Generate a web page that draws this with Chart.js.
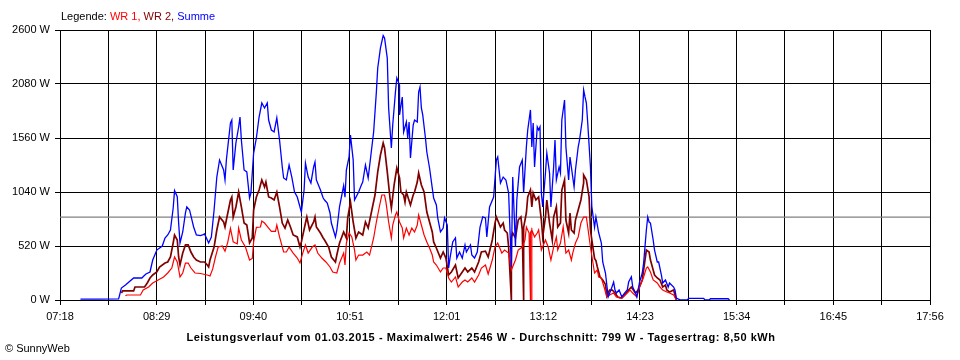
<!DOCTYPE html>
<html><head><meta charset="utf-8">
<script src="https://cdn.jsdelivr.net/npm/chart.js@4.4.1/dist/chart.umd.min.js"></script>
<style>
html,body{margin:0;padding:0;background:#fff;}
#wrap{position:relative;width:960px;height:360px;overflow:hidden;font-family:"Liberation Sans",Arial,sans-serif;font-size:11px;color:#000;}
canvas{position:absolute;left:0;top:0;}
.txt{position:absolute;white-space:nowrap;line-height:13px;}
</style></head><body>
<div id="wrap">
<canvas id="c" width="960" height="360"></canvas>
<div class="txt" id="legend" style="left:61px;top:10px;"></div>
<div class="txt" id="title" style="left:0;width:962px;top:331px;text-align:center;font-weight:bold;letter-spacing:0.55px;"></div>
<div class="txt" id="copy" style="left:5px;top:342px;"></div>
</div>
<script>
// ---- data ----
const seriesNames = ["WR 1", "WR 2", "Summe"];
const xTickLabels = ["07:18","","08:29","","09:40","","10:51","","12:01","","13:12","","14:23","","15:34","","16:45","","17:56"];
const yTickValues = [0, 520, 1040, 1560, 2080, 2600];
const averageWatt = 799;
const maxWatt = 2546;
const dateText = "01.03.2015";
const yieldText = "8,50 kWh";

const wr1 = [["08:06",40],["08:07",48],["08:17",48],["08:19",96],["08:23",125],["08:26",164],["08:30",193],["08:34",222],["08:37",260],["08:40",308],["08:42",414],["08:44",366],["08:46",222],["08:48",260],["08:50",356],["08:52",356],["08:54",308],["08:57",260],["09:01",255],["09:06",241],["09:08",231],["09:10",300],["09:12",414],["09:14",510],["09:17",520],["09:19",470],["09:21",555],["09:23",690],["09:25",560],["09:28",540],["09:29",693],["09:31",578],["09:34",510],["09:37",385],["09:39",400],["09:40",560],["09:42",700],["09:45",703],["09:46",760],["09:48",741],["09:51",693],["09:53",660],["09:56",660],["09:57",722],["09:59",607],["10:02",462],["10:04",462],["10:06",510],["10:09",452],["10:12",404],["10:14",356],["10:16",452],["10:18",530],["10:20",452],["10:23",510],["10:25",530],["10:27",452],["10:30",404],["10:33",366],["10:36",318],["10:38",270],["10:41",260],["10:43",356],["10:46",452],["10:47",337],["10:48",549],["10:50",645],["10:52",607],["10:54",481],["10:55",385],["10:57",433],["11:00",433],["11:03",462],["11:05",433],["11:08",597],["11:10",751],["11:12",886],["11:14",1011],["11:16",1011],["11:17",944],["11:19",751],["11:21",597],["11:22",722],["11:24",818],["11:25",847],["11:27",751],["11:29",693],["11:30",597],["11:32",693],["11:34",626],["11:36",693],["11:38",655],["11:40",722],["11:41",818],["11:43",722],["11:45",626],["11:47",559],["11:49",501],["11:51",433],["11:52",366],["11:54",337],["11:57",270],["11:59",308],["12:01",308],["12:03",212],["12:05",173],["12:08",222],["12:10",125],["12:13",173],["12:15",193],["12:17",173],["12:20",212],["12:22",173],["12:25",241],["12:27",308],["12:30",337],["12:32",250],["12:35",385],["12:37",510],["12:39",549],["12:42",452],["12:44",481],["12:47",452],["12:49",289],["12:52",385],["12:54",481],["12:57",510],["12:59",578],["13:00",703],["13:02",645],["13:03",0],["13:03",650],["13:04",674],["13:04",0],["13:04",674],["13:06",607],["13:08",645],["13:09",674],["13:11",481],["13:14",578],["13:16",510],["13:18",385],["13:20",510],["13:22",607],["13:23",481],["13:25",549],["13:27",703],["13:29",452],["13:31",481],["13:33",385],["13:34",452],["13:36",549],["13:38",607],["13:40",741],["13:42",799],["13:44",799],["13:45",703],["13:47",510],["13:50",260],["13:52",289],["13:53",222],["13:55",212],["13:57",125],["13:59",29],["14:01",48],["14:04",67],["14:06",29],["14:09",19],["14:11",29],["14:14",67],["14:16",96],["14:18",67],["14:21",29],["14:23",125],["14:26",222],["14:28",308],["14:29",318],["14:31",270],["14:33",193],["14:36",164],["14:38",125],["14:40",96],["14:43",77],["14:45",67],["14:48",48],["14:50",0]];

const wr2 = [["08:03",67],["08:04",87],["08:12",87],["08:13",125],["08:20",125],["08:22",164],["08:24",212],["08:26",241],["08:29",270],["08:31",318],["08:35",356],["08:37",366],["08:39",414],["08:41",549],["08:42",626],["08:44",578],["08:45",414],["08:46",337],["08:48",452],["08:50",530],["08:52",530],["08:54",462],["08:56",414],["08:58",385],["09:01",366],["09:04",366],["09:06",337],["09:07",318],["09:08",385],["09:11",510],["09:13",674],["09:15",799],["09:18",751],["09:19",703],["09:20",770],["09:23",963],["09:24",992],["09:25",799],["09:27",896],["09:29",1040],["09:31",896],["09:33",741],["09:35",722],["09:37",549],["09:39",597],["09:40",867],["09:42",992],["09:44",1059],["09:46",1156],["09:48",1088],["09:49",1136],["09:51",992],["09:53",982],["09:55",963],["09:57",1040],["09:59",896],["10:01",741],["10:03",693],["10:05",770],["10:07",703],["10:09",626],["10:12",607],["10:14",510],["10:15",559],["10:18",741],["10:19",799],["10:21",674],["10:24",751],["10:25",799],["10:26",703],["10:29",645],["10:31",597],["10:32",578],["10:35",510],["10:37",414],["10:40",366],["10:41",433],["10:43",550],["10:46",655],["10:48",597],["10:49",790],["10:51",944],["10:53",751],["10:55",597],["10:57",655],["11:00",626],["11:02",751],["11:04",693],["11:07",886],["11:09",1011],["11:11",1233],["11:13",1396],["11:15",1512],["11:16",1464],["11:18",1233],["11:20",982],["11:21",886],["11:23",1107],["11:25",1271],["11:27",1175],["11:28",1040],["11:30",1011],["11:31",944],["11:32",1040],["11:35",915],["11:37",1011],["11:38",1040],["11:40",1136],["11:41",1223],["11:43",1107],["11:45",1040],["11:47",847],["11:49",751],["11:51",655],["11:52",559],["11:54",501],["11:57",404],["11:59",462],["12:01",404],["12:03",241],["12:05",270],["12:08",337],["12:10",212],["12:13",270],["12:15",308],["12:17",270],["12:20",308],["12:22",270],["12:25",366],["12:27",462],["12:30",470],["12:32",414],["12:35",578],["12:37",741],["12:38",799],["12:41",703],["12:43",741],["12:44",674],["12:46",645],["12:47",510],["12:49",0],["12:49",600],["12:50",645],["12:52",600],["12:54",770],["12:56",799],["12:57",674],["12:58",0],["12:58",700],["13:00",838],["13:01",992],["13:03",1059],["13:04",896],["13:05",1030],["13:07",963],["13:09",992],["13:11",770],["13:12",607],["13:14",799],["13:15",963],["13:17",741],["13:19",578],["13:20",799],["13:22",896],["13:23",703],["13:25",741],["13:26",1059],["13:28",1156],["13:29",770],["13:31",645],["13:32",838],["13:33",674],["13:35",645],["13:36",770],["13:38",867],["13:40",963],["13:42",1127],["13:42",1204],["13:44",1156],["13:46",992],["13:47",674],["13:48",578],["13:50",400],["13:51",380],["13:52",320],["13:54",222],["13:56",193],["13:58",150],["13:59",40],["14:01",96],["14:03",96],["14:05",67],["14:07",29],["14:10",19],["14:12",48],["14:15",96],["14:17",125],["14:20",67],["14:22",96],["14:25",193],["14:26",289],["14:28",481],["14:30",462],["14:31",385],["14:33",289],["14:34",241],["14:36",212],["14:38",193],["14:40",125],["14:42",144],["14:43",96],["14:45",77],["14:48",96],["14:49",48],["14:50",0]];

const summe = [["07:33",8],["07:47",8],["08:01",10],["08:03",115],["08:06",144],["08:12",212],["08:18",212],["08:21",250],["08:24",270],["08:26",385],["08:29",481],["08:33",520],["08:35",597],["08:37",626],["08:39",674],["08:41",886],["08:42",1053],["08:44",995],["08:45",741],["08:46",549],["08:48",655],["08:50",838],["08:51",896],["08:53",867],["08:56",703],["08:58",626],["09:01",620],["09:03",630],["09:04",636],["09:07",549],["09:09",607],["09:11",867],["09:13",1184],["09:15",1348],["09:18",1252],["09:19",1156],["09:20",1348],["09:23",1705],["09:24",1733],["09:25",1252],["09:27",1512],["09:29",1666],["09:30",1762],["09:31",1541],["09:33",1252],["09:35",1233],["09:37",982],["09:38",1030],["09:40",1415],["09:42",1560],["09:44",1762],["09:46",1897],["09:48",1849],["09:50",1897],["09:51",1733],["09:53",1637],["09:55",1618],["09:57",1753],["09:59",1541],["10:01",1281],["10:02",1175],["10:04",1156],["10:06",1300],["10:08",1184],["10:10",1040],["10:12",992],["10:14",896],["10:15",847],["10:17",1059],["10:18",1319],["10:20",1184],["10:22",1127],["10:24",1281],["10:25",1329],["10:26",1156],["10:29",1059],["10:31",982],["10:32",963],["10:34",934],["10:36",838],["10:37",741],["10:40",607],["10:41",674],["10:43",900],["10:46",1100],["10:47",990],["10:48",1250],["10:50",1380],["10:51",1589],["10:53",1350],["10:54",963],["10:57",1040],["10:59",1107],["11:00",1136],["11:02",1300],["11:04",1175],["11:06",1396],["11:08",1618],["11:10",2003],["11:11",2234],["11:13",2427],["11:15",2546],["11:16",2523],["11:18",2330],["11:19",1849],["11:21",1464],["11:22",1685],["11:24",2003],["11:25",2138],["11:27",2070],["11:27",1782],["11:29",1955],["11:30",1618],["11:32",1714],["11:33",1560],["11:34",1714],["11:35",1367],["11:37",1685],["11:38",1733],["11:40",1714],["11:41",2003],["11:42",2051],["11:43",1849],["11:44",1782],["11:46",1560],["11:47",1425],["11:49",1271],["11:51",1078],["11:52",982],["11:54",915],["11:55",790],["11:57",655],["11:59",693],["12:00",790],["12:02",722],["12:03",308],["12:04",404],["12:06",559],["12:08",597],["12:09",404],["12:11",462],["12:13",404],["12:15",530],["12:16",462],["12:19",530],["12:20",433],["12:22",404],["12:24",462],["12:26",700],["12:28",800],["12:30",790],["12:31",607],["12:33",896],["12:36",992],["12:38",1348],["12:39",1377],["12:41",1127],["12:43",1184],["12:45",1156],["12:47",1030],["12:49",318],["12:50",1184],["12:52",510],["12:53",963],["12:55",1281],["12:57",1348],["12:58",1030],["13:00",1473],["13:01",1637],["13:03",1830],["13:04",1473],["13:05",1705],["13:06",1281],["13:08",1666],["13:09",1637],["13:10",1666],["13:11",1030],["13:12",896],["13:14",1223],["13:15",1415],["13:17",1223],["13:18",896],["13:20",1281],["13:21",1541],["13:22",1156],["13:24",1281],["13:25",1223],["13:26",1733],["13:28",1926],["13:29",1473],["13:31",1156],["13:32",1377],["13:33",1281],["13:35",1088],["13:36",1252],["13:38",1473],["13:39",1541],["13:41",1733],["13:42",2022],["13:43",1955],["13:44",1897],["13:45",1705],["13:47",1281],["13:48",900],["13:50",700],["13:51",800],["13:53",650],["13:55",549],["13:56",366],["13:58",260],["14:00",30],["14:02",96],["14:04",173],["14:05",96],["14:06",67],["14:08",96],["14:10",29],["14:12",67],["14:14",96],["14:15",173],["14:17",222],["14:18",125],["14:20",67],["14:21",29],["14:23",173],["14:25",260],["14:26",356],["14:28",674],["14:29",799],["14:30",751],["14:31",741],["14:33",578],["14:34",481],["14:36",366],["14:37",366],["14:39",241],["14:40",164],["14:42",193],["14:44",125],["14:45",164],["14:48",125],["14:49",96],["14:50",19],["14:53",0],["14:58",0],["14:59",15],["15:04",15],["15:10",15],["15:11",0],["15:14",0],["15:15",12],["15:28",12],["15:29",0]];

// ---- helpers ----
function toMin(s){ const p = s.split(":").map(Number); return p[0]*60 + p[1]; }
function pts(arr){ return arr.map(d => ({x: toMin(d[0]), y: d[1]})); }

const xMin = toMin(xTickLabels[0]);
const xMax = toMin(xTickLabels[xTickLabels.length-1]);
const xTickValues = xTickLabels.map((_, i) => xMin + i*(xMax - xMin)/(xTickLabels.length - 1));

const colors = {wr1: "#ff0000", wr2: "#800000", sum: "#0000ff", avg: "#808080"};

// ---- texts ----
document.getElementById("legend").innerHTML =
  'Legende: <span style="color:'+colors.wr1+'">'+seriesNames[0]+',</span> <span style="color:'+colors.wr2+'">'+seriesNames[1]+',</span> <span style="color:'+colors.sum+'">'+seriesNames[2]+'</span>';
document.getElementById("title").textContent =
  "Leistungsverlauf vom " + dateText + " - Maximalwert: " + maxWatt + " W - Durchschnitt: " + averageWatt + " W - Tagesertrag: " + yieldText;
document.getElementById("copy").textContent = "\u00A9 SunnyWeb";

const FONT = {family: '"Liberation Sans", Arial, sans-serif', size: 11};

new Chart(document.getElementById("c"), {
  type: "line",
  data: {
    datasets: [
      {label: seriesNames[2], data: pts(summe), borderColor: colors.sum, borderWidth: 1.3, pointRadius: 0, order: 0},
      {label: seriesNames[0], data: pts(wr1), borderColor: colors.wr1, borderWidth: 1.2, pointRadius: 0, order: 1},
      {label: seriesNames[1], data: pts(wr2), borderColor: colors.wr2, borderWidth: 1.7, pointRadius: 0, order: 2},
      {label: "Durchschnitt", data: [{x: xMin, y: averageWatt}, {x: xMax, y: averageWatt}], borderColor: colors.avg, borderWidth: 1.2, pointRadius: 0, order: 3}
    ]
  },
  options: {
    responsive: false,
    animation: false,
    devicePixelRatio: 1,
    layout: {padding: {left: 0, right: 30, top: 30, bottom: 0}},
    plugins: {legend: {display: false}, tooltip: {enabled: false}, title: {display: false}},
    elements: {line: {tension: 0, fill: false}},
    scales: {
      x: {
        type: "linear", min: xMin, max: xMax,
        afterFit: s => { s.height = 60; },
        afterBuildTicks: s => { s.ticks = xTickValues.map(v => ({value: v})); },
        ticks: {autoSkip: false, maxRotation: 0, color: "#000", font: FONT, padding: 5,
                callback: (v, i) => xTickLabels[i]},
        grid: {color: "#000", lineWidth: 1, tickLength: 5, tickColor: "#000"},
        border: {display: true, color: "#000", width: 1}
      },
      y: {
        type: "linear", min: yTickValues[0], max: yTickValues[yTickValues.length-1],
        afterFit: s => { s.width = 60; },
        afterBuildTicks: s => { s.ticks = yTickValues.map(v => ({value: v})); },
        ticks: {color: "#000", font: FONT, padding: 5, callback: v => v + " W"},
        grid: {color: "#000", lineWidth: 1, tickLength: 5, tickColor: "#000"},
        border: {display: true, color: "#000", width: 1}
      }
    }
  }
});
</script>
</body></html>
